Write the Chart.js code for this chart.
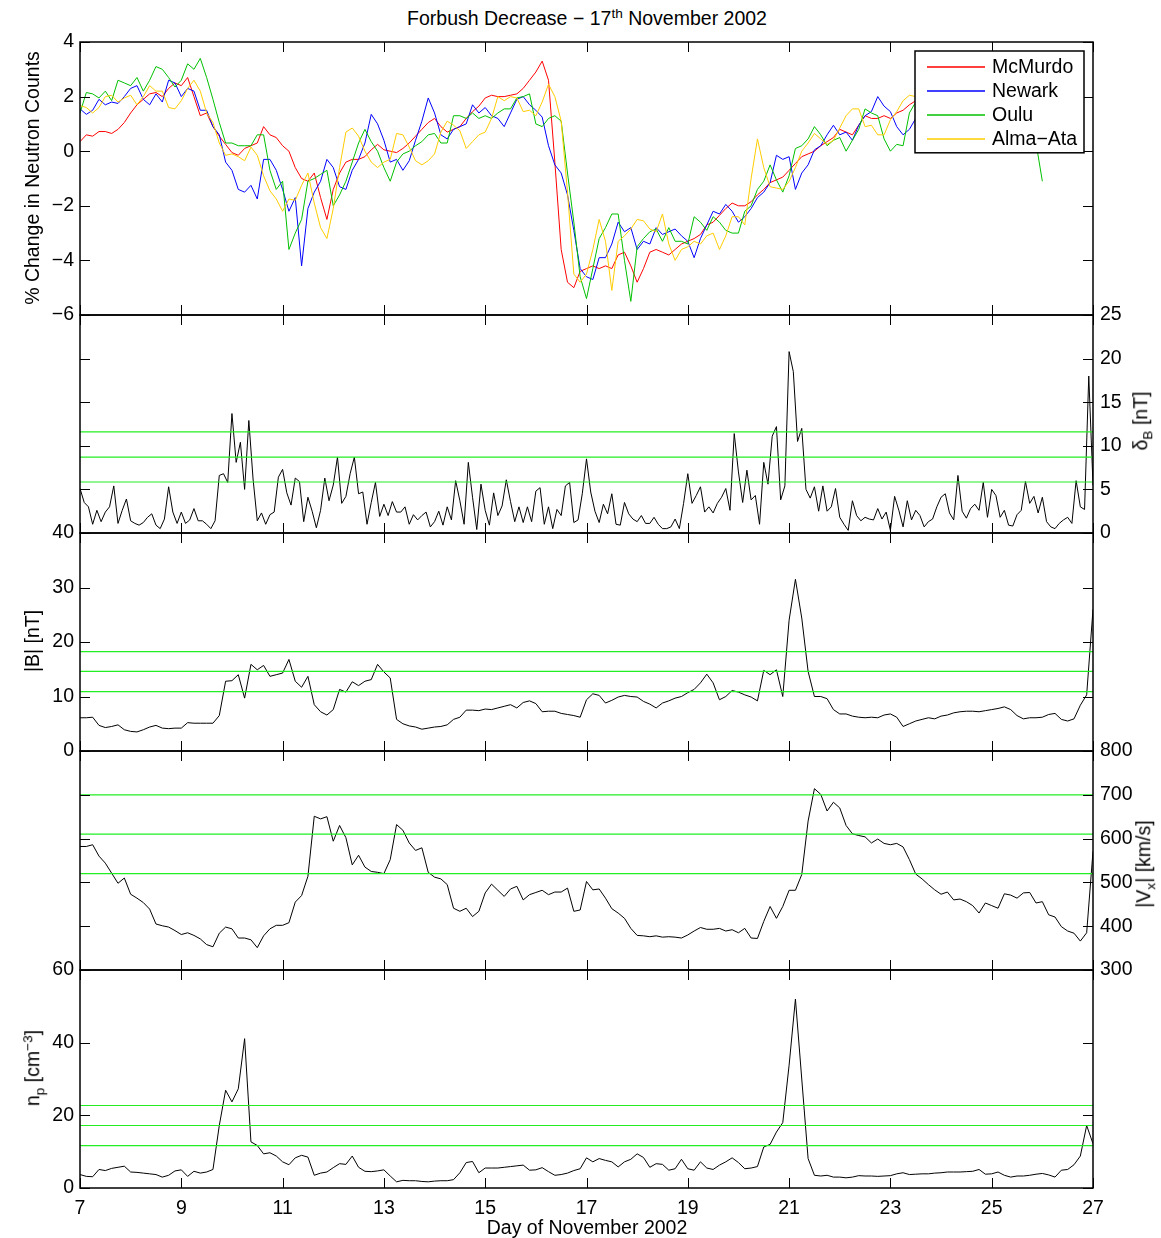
<!DOCTYPE html>
<html>
<head>
<meta charset="utf-8">
<script src="https://cdn.jsdelivr.net/npm/chart.js@4/dist/chart.umd.min.js"></script>
<style>
body { margin: 0; background: #fff; }
#fig { position: relative; width: 1161px; height: 1238px; font-family: "Liberation Sans", Arial, Helvetica, sans-serif; color: #000; overflow: hidden; }
#fig canvas { position: absolute; left: 0; }
.lbl { position: absolute; font-size: 19.5px; white-space: nowrap; line-height: 1; }
.ctr { transform: translate(-50%, -50%); }
.rot { transform: translate(-50%, -50%) rotate(-90deg); }
sup, sub { font-size: 70%; line-height: 0; }
</style>
</head>
<body>
<div id="fig">
  <canvas id="nm" width="1161" height="297" style="top:30px"></canvas>
  <canvas id="db" width="1161" height="242" style="top:303px"></canvas>
  <canvas id="bmag" width="1161" height="242" style="top:521px"></canvas>
  <canvas id="vx" width="1161" height="243" style="top:739px"></canvas>
  <canvas id="np" width="1161" height="280" style="top:958px"></canvas>

  <div class="lbl ctr" style="left:587px;top:19px">Forbush Decrease &minus; 17<sup>th</sup> November 2002</div>
  <div class="lbl rot" style="left:33px;top:178px">% Change in Neutron Counts</div>
  <div class="lbl rot" style="left:1141px;top:421px">&delta;<sub>B</sub> [nT]</div>
  <div class="lbl rot" style="left:33px;top:641px">|B| [nT]</div>
  <div class="lbl rot" style="left:1144px;top:864px">|V<sub>x</sub>| [km/s]</div>
  <div class="lbl rot" style="left:33px;top:1068px">n<sub>p</sub> [cm<sup>&minus;3</sup>]</div>
  <div class="lbl ctr" style="left:587px;top:1228px">Day of November 2002</div>
</div>

<script>
// ---- axis ticks ----
const xTicks = [7, 9, 11, 13, 15, 17, 19, 21, 23, 25, 27];
const nmTicks = [-6, -4, -2, 0, 2, 4];
const dbTicks = [0, 5, 10, 15, 20, 25];
const bTicks = [0, 10, 20, 30, 40];
const vxTicks = [300, 400, 500, 600, 700, 800];
const npTicks = [0, 20, 40, 60];

// ---- neutron monitors, % change, every 3 hours from day 7 ----
const nmStep = 0.125;
const mcmurdo = [
  0.35,0.6,0.55,0.72,0.72,0.65,0.8,1.05,1.4,1.7,
  1.9,2.1,2.15,2.0,2.3,2.5,2.4,2.7,2.0,1.3,
  1.4,0.9,0.55,0.25,-0.05,-0.15,0.1,0.2,0.3,0.9,
  0.6,0.5,0.2,0.0,-0.6,-1.0,-1.1,-0.8,-1.7,-2.5,
  -1.4,-0.8,-0.4,-0.3,-0.3,-0.2,0.05,0.25,0.05,0.0,
  -0.05,0.1,0.3,0.55,0.8,1.05,1.2,0.9,0.7,0.8,
  0.9,1.2,1.45,1.65,1.95,2.05,2.0,2.0,2.05,2.1,
  2.3,2.6,2.9,3.3,2.6,-0.4,-3.6,-4.8,-5.0,-4.4,
  -4.3,
  -4.2,-4.3,-4.2,-4.3,-3.8,-3.7,-4.2,-4.8,-4.3,-3.7,
  -3.6,-3.7,-3.8,-3.6,-3.4,-3.3,-3.2,-3.05,-2.7,-2.6,
  -2.35,-2.1,-1.9,-2.0,-2.0,-1.85,-1.6,-1.4,-1.15,-1.05,
  -0.95,-0.7,-0.45,-0.2,-0.1,0.0,0.2,0.35,0.5,0.8,
  0.7,0.6,0.95,1.3,1.2,1.2,1.3,1.2,1.4,1.5,
  1.7,1.85,
  1.9,2.0,2.1,2.0,2.2,2.1,2.3,2.2,2.3,2.4,
  2.3,2.4,2.5,2.4,2.5,2.4,2.5,2.4,2.5,2.4
];
const newark = [
  1.55,1.35,1.5,1.9,1.7,1.8,1.75,2.0,2.3,2.4,
  1.9,1.7,2.1,1.8,2.6,2.5,2.0,2.3,2.2,1.5,
  1.5,0.9,0.6,-0.4,-0.7,-1.4,-1.5,-1.25,-1.75,-0.3,
  -0.3,-0.7,-1.4,-2.2,-1.7,-4.2,-2.1,-1.5,-1.1,-0.3,
  -0.6,-1.3,-1.4,-0.7,-0.3,0.3,1.35,1.0,0.4,-0.4,
  -0.3,-0.7,-0.35,0.4,1.1,1.95,1.4,0.6,0.45,0.8,
  0.9,1.0,1.7,1.4,1.6,1.3,1.2,0.9,1.4,1.9,
  2.0,1.7,1.5,1.25,0.2,-0.5,-0.8,-1.6,-2.9,-4.3,
  -4.6,
  -4.7,-3.9,-3.9,-3.4,-2.6,-2.95,-2.8,-3.6,-3.3,-3.4,
  -2.8,-3.05,-2.95,-2.85,-3.1,-3.3,-3.9,-3.2,-2.7,-2.2,
  -2.3,-1.95,-2.2,-2.6,-2.4,-2.1,-1.7,-1.5,-1.15,-0.15,
  -0.3,-0.2,-1.4,-0.8,-0.5,0.05,0.2,0.6,0.95,0.6,
  0.7,0.4,0.95,1.3,1.45,2.0,1.65,1.45,0.9,0.6,
  0.8,1.2,
  1.6,1.9,2.0,2.1,2.0,2.2,2.1,2.3,2.2,2.4,
  2.3,2.2,2.4,2.3,2.4,2.3,2.5,2.4,2.3,2.4
];
const oulu = [
  1.4,2.15,2.1,1.95,2.2,1.85,2.6,2.5,2.4,2.7,
  2.2,2.6,3.1,3.0,2.7,2.35,2.6,3.2,3.0,3.4,
  2.7,1.9,1.05,0.3,0.3,0.2,0.2,0.2,0.6,0.6,
  -0.7,-1.4,-1.1,-3.6,-3.0,-2.5,-1.1,-1.0,-0.85,-0.7,
  -2.0,-1.6,-1.1,-0.4,0.3,0.8,0.35,0.0,-0.6,-1.1,
  -0.4,-0.1,0.0,0.2,0.35,0.6,0.65,0.3,0.3,1.3,
  1.3,1.2,1.4,1.2,1.3,1.2,1.4,1.55,1.55,1.95,
  2.0,2.1,1.0,0.9,1.2,1.3,1.1,-0.8,-2.6,-4.6,
  -5.4,
  -4.3,-3.2,-2.8,-2.3,-2.3,-4.0,-5.5,-3.5,-3.2,-2.95,
  -2.85,-3.3,-2.8,-3.3,-3.3,-3.4,-2.4,-2.6,-2.9,-2.4,
  -2.6,-2.9,-3.0,-3.0,-2.2,-2.0,-1.4,-1.1,-0.5,-1.05,
  -1.5,-0.9,0.1,0.2,0.45,0.9,0.6,0.2,0.4,0.5,
  0.0,0.4,0.8,1.55,1.4,1.3,0.45,0.0,0.25,0.2,
  1.4,1.8,
  1.7,1.5,1.2,1.0,0.8,1.1,1.4,1.6,1.5,1.8,
  1.7,1.9,1.7,1.5,1.3,1.0,0.8,0.5,0.3,-1.1
];
const almaAta = [
  1.67,1.6,1.4,1.6,2.0,2.05,1.8,1.95,2.05,1.7,
  2.0,2.4,2.2,2.2,1.6,1.55,1.85,2.3,2.6,2.2,
  1.4,1.05,0.3,-0.15,-0.1,-0.2,-0.35,0.15,-0.15,-0.9,
  -1.45,-1.75,-2.2,-1.75,-1.8,-1.25,-0.8,-1.9,-2.8,-3.2,
  -2.1,-0.6,0.7,0.85,0.55,0.0,-0.4,-0.6,-0.4,-0.3,
  0.65,0.6,0.15,-0.35,-0.5,-0.35,-0.1,0.7,1.1,0.95,
  0.75,0.1,0.35,0.6,0.7,1.2,2.0,1.85,2.0,1.95,
  1.45,1.5,1.3,1.8,2.45,2.0,1.1,-1.5,-4.5,-4.8,
  -4.5,
  -3.6,-2.5,-3.3,-5.1,-3.3,-3.1,-2.85,-2.5,-2.55,-2.85,
  -2.95,-2.3,-3.4,-4.0,-3.6,-3.5,-3.3,-3.4,-3.1,-3.0,
  -3.6,-3.1,-2.4,-2.4,-2.7,-1.0,0.45,-0.6,-1.3,-1.35,
  -1.4,-1.1,-0.6,0.0,0.3,0.65,0.45,0.25,0.4,0.85,
  1.3,1.55,1.55,0.9,0.95,0.6,0.6,1.15,1.45,1.85,
  2.05,2.0,
  2.1,2.2,2.0,2.3,2.2,2.4,2.3,2.5,2.3,2.4,
  2.5,2.3,2.4,2.6,2.4,2.5,2.3,2.4,2.5,2.4
];

// ---- magnetic field fluctuation dB [nT], every 2 hours ----
const dbStep = 1 / 12;
const deltaB = [
  5.1,3.5,3.0,1.0,2.6,1.3,2.4,3.0,5.4,1.1,
  2.6,3.9,1.4,1.1,0.9,1.2,1.8,2.2,0.9,0.5,
  1.6,5.3,2.4,1.1,2.4,1.1,1.5,2.8,1.4,1.4,
  1.0,0.5,1.4,6.6,6.8,5.8,13.7,8.1,10.4,5.0,
  12.9,6.2,1.4,2.3,1.0,2.1,2.4,6.4,7.3,4.6,
  3.2,6.3,5.9,1.3,4.1,2.5,0.6,2.6,6.3,3.7,
  5.5,8.7,3.4,4.2,6.8,8.7,4.5,4.7,1.0,3.5,
  5.8,1.9,3.3,2.0,3.6,2.4,2.4,3.0,1.0,2.1,
  1.5,2.0,2.4,0.7,1.3,2.5,0.9,3.0,1.5,6.0,
  3.7,1.0,8.1,4.1,0.4,5.6,2.6,0.9,4.6,2.0,
  3.1,6.1,3.6,1.3,3.0,1.2,3.0,1.3,4.8,5.2,
  1.0,3.0,0.5,2.7,2.0,5.4,5.8,1.2,1.5,4.5,
  8.5,
  4.7,2.5,1.2,3.3,2.2,4.5,1.0,0.9,3.5,2.2,
  1.6,1.3,2.0,1.1,1.1,1.8,1.0,0.5,0.5,0.7,
  1.6,0.5,3.4,6.8,3.4,4.3,5.3,2.4,3.0,2.3,
  3.4,4.1,5.1,2.6,11.4,7.0,3.5,7.2,3.8,4.3,
  1.0,8.1,5.6,11.1,12.2,3.8,5.4,20.8,18.5,10.5,
  12.0,5.0,4.0,5.3,2.5,5.4,2.5,3.0,5.1,1.8,
  1.0,0.3,3.7,2.0,1.4,1.8,1.6,1.5,2.8,1.6,
  2.4,0.3,4.2,2.6,0.7,3.7,1.5,2.6,2.0,0.7,
  1.3,1.6,3.0,4.1,4.5,2.3,1.5,6.6,2.5,1.7,
  2.8,3.3,2.6,5.8,1.8,5.0,4.3,1.8,2.6,0.9,
  0.8,2.1,2.6,5.9,3.4,4.2,2.3,4.1,1.3,0.7,
  0.5,1.1,1.5,1.8,1.1,6.0,3.0,2.7,18.0,5.5
];

// ---- |B| [nT], |Vx| [km/s], np [cm^-3], every 3 hours ----
const plStep = 0.125;
const bMag = [
  6.1,6.1,6.2,4.7,4.3,4.5,4.8,3.9,3.6,3.5,
  3.9,4.4,4.7,4.2,4.1,4.2,4.2,5.2,5.1,5.1,
  5.1,5.1,6.5,12.8,12.9,14.0,9.7,15.9,14.9,15.7,
  13.7,14.0,14.3,16.8,12.8,11.7,13.7,8.5,7.2,6.6,
  7.6,11.3,10.8,12.7,12.0,12.8,13.1,15.9,14.5,13.4,
  5.8,5.0,4.6,4.4,4.0,4.2,4.4,4.5,4.8,5.8,
  6.2,7.5,7.5,7.4,7.7,7.6,7.9,8.2,8.5,7.9,
  8.9,9.2,8.7,7.2,7.3,7.3,6.9,6.7,6.5,6.2,
  9.4,
  10.5,10.2,8.8,9.3,9.9,10.2,10.0,9.9,9.1,8.6,
  7.9,8.8,9.2,9.7,10.0,10.7,11.3,12.5,14.1,12.5,
  9.4,10.0,11.1,10.8,10.3,9.9,9.2,14.8,14.0,14.9,
  10.0,24.0,31.5,24.4,14.6,10.0,10.0,9.6,7.6,6.8,
  6.8,6.4,6.2,6.1,6.2,6.1,6.6,6.8,6.2,4.5,
  5.0,5.5,5.8,6.1,5.9,6.4,6.6,7.0,7.2,7.3,
  7.3,7.2,7.4,7.6,7.8,8.1,7.6,6.5,5.9,6.1,
  6.1,6.2,6.7,6.9,5.8,5.5,5.9,8.4,10.3,26.0
];
const vX = [
  582,582,586,560,544,521,498,510,473,464,
  454,439,405,401,398,390,381,385,379,371,
  358,353,384,398,394,373,373,369,351,378,
  394,402,402,408,455,470,514,651,645,650,
  594,630,602,540,562,535,525,523,520,552,
  632,619,590,573,579,523,512,508,495,441,
  434,441,422,434,476,496,482,468,485,491,
  460,472,477,482,472,478,478,487,434,437,
  502,
  483,485,464,440,430,418,395,379,378,376,
  378,375,376,375,373,380,389,397,393,393,
  395,389,392,385,395,373,372,411,445,418,
  445,482,482,518,640,714,701,663,683,670,
  630,611,607,604,590,599,589,586,589,581,
  552,519,508,495,483,473,478,460,462,456,
  447,430,453,447,441,474,471,464,476,477,
  453,456,426,421,399,389,384,366,385,571
];
const nP = [
  3.7,3.2,3.1,5.1,4.8,5.4,5.7,6.0,4.4,4.3,
  4.1,3.9,3.7,3.0,3.5,4.7,5.0,3.2,4.6,4.1,
  4.4,5.1,17.2,26.9,23.7,27.3,41.1,12.7,11.7,9.4,
  9.7,8.8,7.2,6.4,8.3,9.0,8.5,3.5,4.1,4.4,
  5.6,6.7,6.5,8.8,5.7,4.6,4.5,4.7,5.0,3.3,
  1.7,2.1,2.0,2.0,1.8,1.7,1.9,2.0,2.0,2.3,
  4.2,7.0,7.3,4.2,5.5,5.5,5.5,5.7,5.9,6.1,
  6.3,4.9,5.0,5.6,4.5,3.5,3.7,4.1,4.8,5.3,
  8.3,
  7.2,8.1,7.6,7.2,5.8,7.2,7.9,9.4,8.4,5.7,
  6.7,6.5,4.9,5.3,7.9,5.3,4.9,7.2,5.5,5.1,
  6.3,7.2,8.3,7.0,5.3,5.5,5.9,11.3,12.0,15.4,
  18.0,33.8,52.0,30.0,8.1,3.5,3.3,3.5,3.0,3.0,
  2.8,3.0,3.4,3.3,3.3,3.2,3.3,3.4,3.9,4.2,
  3.7,3.8,3.9,3.9,4.1,4.2,4.4,4.4,4.4,4.5,
  4.6,5.1,3.8,3.9,4.4,3.5,3.0,3.3,3.3,3.5,
  3.8,4.0,3.6,3.0,4.9,5.1,6.4,8.8,17.2,12.2
];

// ---- green reference levels ----
const dbLevels = [11.6, 8.7, 5.85];
const bLevels = [18.25, 14.6, 10.9];
const vxLevels = [700, 610, 520];
const npLevels = [22.7, 17.2, 11.65];

const stations = ['McMurdo', 'Newark', 'Oulu', 'Alma\u2212Ata'];
const stationColors = ['#ff0000', '#0000ff', '#00c000', '#ffcc00'];

const FONT = { family: '"Liberation Sans", Arial, Helvetica, sans-serif', size: 19.5 };
const TICK = 10;

function toPoints(vals, step) {
  return vals.map((v, i) => ({ x: 7 + i * step, y: v }));
}
function levelLine(v) {
  return { data: [{ x: 7, y: v }, { x: 27, y: v }], borderColor: '#22ee22', borderWidth: 1.2, pointRadius: 0, order: 0 };
}
function blackLine(vals, step) {
  return { data: toPoints(vals, step), borderColor: '#000', borderWidth: 1, pointRadius: 0, order: 1 };
}

// box round the axes with inward ticks on all four sides
const framePlugin = {
  id: 'frame',
  afterDatasetsDraw(chart) {
    const { ctx, chartArea: a, scales } = chart;
    const xs = scales.x, ys = scales.y;
    ctx.save();
    ctx.strokeStyle = '#000';
    ctx.lineWidth = 1;
    ctx.beginPath();
    xTicks.forEach(v => {
      const px = Math.round(xs.getPixelForValue(v)) + 0.5;
      ctx.moveTo(px, a.top); ctx.lineTo(px, a.top + TICK);
      ctx.moveTo(px, a.bottom); ctx.lineTo(px, a.bottom - TICK);
    });
    ys.ticks.forEach(t => {
      const py = Math.round(ys.getPixelForValue(t.value)) + 0.5;
      ctx.moveTo(a.left, py); ctx.lineTo(a.left + TICK, py);
      ctx.moveTo(a.right, py); ctx.lineTo(a.right - TICK, py);
    });
    ctx.stroke();
    ctx.lineWidth = 1.5;
    ctx.strokeRect(a.left, a.top, a.right - a.left, a.bottom - a.top);
    ctx.restore();
  }
};

// boxed legend in the upper right corner of the top panel
const boxLegend = {
  id: 'boxLegend',
  afterDatasetsDraw(chart) {
    const { ctx, chartArea: a } = chart;
    const items = chart.data.datasets.filter(d => d.label);
    const left = 915, top = a.top + 9, w = 169, rowH = 24.2;
    const h = rowH * items.length + 5;
    ctx.save();
    ctx.fillStyle = '#fff';
    ctx.fillRect(left, top, w, h);
    ctx.strokeStyle = '#000';
    ctx.lineWidth = 1.5;
    ctx.strokeRect(left, top, w, h);
    ctx.font = FONT.size + 'px ' + FONT.family;
    ctx.textBaseline = 'middle';
    items.forEach((d, i) => {
      const y = Math.round(top + 15.7 + i * rowH);
      ctx.strokeStyle = d.borderColor;
      ctx.lineWidth = 1.4;
      ctx.beginPath();
      ctx.moveTo(left + 12, y); ctx.lineTo(left + 70, y);
      ctx.stroke();
      ctx.fillStyle = '#000';
      ctx.fillText(d.label, left + 77, y + 1);
    });
    ctx.restore();
  }
};

function makePanel(id, o) {
  const left = o.side === 'left';
  return new Chart(document.getElementById(id), {
    type: 'line',
    data: { datasets: o.datasets },
    options: {
      responsive: false,
      animation: false,
      events: [],
      layout: { padding: { left: left ? 0 : 80, right: left ? 68 : 0, top: 12, bottom: o.bottom ? 0 : 12 } },
      plugins: { legend: { display: false }, tooltip: { enabled: false } },
      scales: {
        x: {
          type: 'linear', min: 7, max: 27, display: !!o.bottom,
          grid: { display: false, drawTicks: false }, border: { display: false },
          afterBuildTicks: s => { s.ticks = xTicks.map(v => ({ value: v })); },
          afterFit: s => {
            s.height = o.bottom ? 50 : 0;
            s.paddingLeft = 0; s.paddingRight = 0;
          },
          ticks: { font: FONT, color: '#000', padding: 9, maxRotation: 0, autoSkip: false }
        },
        y: {
          type: 'linear', position: o.side, min: o.min, max: o.max,
          grid: { display: false, drawTicks: false }, border: { display: false },
          afterBuildTicks: s => { s.ticks = o.ticks.map(v => ({ value: v })); },
          afterFit: s => {
            s.width = left ? 80 : 68;
            s.paddingTop = 0; s.paddingBottom = 0;
          },
          ticks: { font: FONT, color: '#000', padding: left ? 6 : 7, autoSkip: false,
                   callback: v => String(v).replace('-', '\u2212') }
        }
      }
    },
    plugins: o.legend ? [framePlugin, boxLegend] : [framePlugin]
  });
}

// top panel: neutron monitors
const nmSeries = [mcmurdo, newark, oulu, almaAta];
makePanel('nm', {
  side: 'left', min: -6, max: 4, ticks: nmTicks, legend: true,
  datasets: nmSeries.map((vals, i) => ({
    label: stations[i], data: toPoints(vals, nmStep), borderColor: stationColors[i],
    borderWidth: 1, pointRadius: 0, order: 3 - i
  }))
});

makePanel('db', {
  side: 'right', min: 0, max: 25, ticks: dbTicks,
  datasets: [blackLine(deltaB, dbStep)].concat(dbLevels.map(levelLine))
});

makePanel('bmag', {
  side: 'left', min: 0, max: 40, ticks: bTicks,
  datasets: [blackLine(bMag, plStep)].concat(bLevels.map(levelLine))
});

makePanel('vx', {
  side: 'right', min: 300, max: 800, ticks: vxTicks,
  datasets: [blackLine(vX, plStep)].concat(vxLevels.map(levelLine))
});

makePanel('np', {
  side: 'left', min: 0, max: 60, ticks: npTicks, bottom: true,
  datasets: [blackLine(nP, plStep)].concat(npLevels.map(levelLine))
});
</script>
</body>
</html>
